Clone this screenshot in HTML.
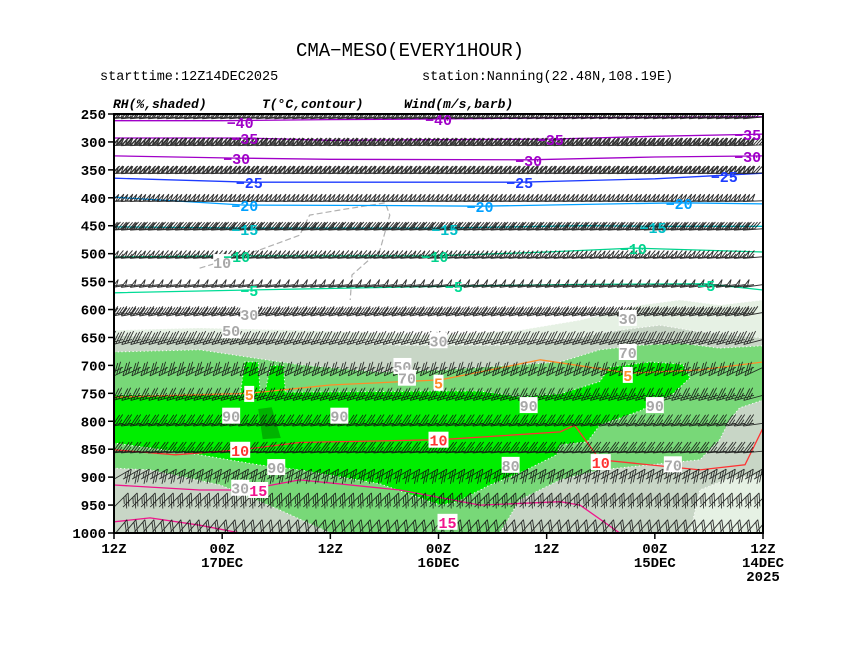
<!DOCTYPE html>
<html><head><meta charset="utf-8"><style>
body{margin:0;background:#fff;}
svg text{font-family:"Liberation Mono","DejaVu Sans Mono",monospace;}
</style></head><body>
<svg id="chart" width="841" height="650" viewBox="0 0 841 650" xmlns="http://www.w3.org/2000/svg">
<rect width="841" height="650" fill="#fff"/>
<text x="410" y="56" font-size="19" text-anchor="middle" fill="#000">CMA−MESO(EVERY1HOUR)</text>
<text x="100" y="80" font-size="13.5" fill="#000">starttime:12Z14DEC2025</text>
<text x="422" y="80" font-size="13.5" fill="#000">station:Nanning(22.48N,108.19E)</text>
<text x="113" y="108" font-size="13" font-style="italic" font-weight="bold" fill="#000" font-family="Liberation Serif,serif">RH(%,shaded)</text>
<text x="262" y="108" font-size="13" font-style="italic" font-weight="bold" fill="#000" font-family="Liberation Serif,serif">T(°C,contour)</text>
<text x="404" y="108" font-size="13" font-style="italic" font-weight="bold" fill="#000" font-family="Liberation Serif,serif">Wind(m/s,barb)</text>
<g id="plot"></g>
</svg>
<script>
// ---- data ----
const levels=[250,300,350,400,450,500,550,600,650,700,750,800,850,900,950,1000];
const xTickHours=[72,60,48,36,24,12,0];
const xTickLabels=[["12Z"],["00Z","17DEC"],["12Z"],["00Z","16DEC"],["12Z"],["00Z","15DEC"],["12Z","14DEC","2025"]];
const windSpeed=[46,50,48,40,32,26,20,16,12,10,10,10,9,10,10,8];
const windDir=[265,268,268,268,266,265,262,260,255,245,255,262,265,60,45,40];
// RH shaded regions [hour, hPa]
const rh30=[[72,637],[62.5,633],[51.4,637],[42.5,642],[35.8,646],[27,637],[20.3,619],[13.6,592],[9.2,583],[4.8,592],[0,583],[0,1000],[72,1000]];
const rh50=[[72,647],[56.9,651],[48,658],[40.3,664],[35.8,664],[29.2,664],[22.5,655],[15.9,637],[11.4,628],[7,640],[0,651],[0,896],[3.7,902],[7,923],[8.1,1000],[72,1000]];
const rh70=[[72,676],[62.5,672],[58,683],[51.4,699],[42.5,712],[35.8,708],[27,699],[22.5,694],[18.1,672],[13.6,664],[9.2,660],[4.8,669],[0,665],[0,762],[2.6,776],[3.7,798],[4.8,833],[7,869],[12.5,878],[18.1,887],[22.5,905],[27,941],[29.2,1000],[48,1000],[53.6,959],[60.2,914],[68,887],[72,884]];
const rh90a=[[72,753],[58,753],[57.5,694],[56,694],[55.8,745],[55.2,745],[54.6,700],[53.2,700],[53,748],[35.8,746],[31.4,746],[27,756],[22.5,751],[18.1,729],[17,703],[12.5,694],[8.9,698],[8.1,722],[10,751],[13.6,781],[18.1,807],[19.5,837],[22.5,842],[22.9,860],[26.6,890],[30.3,914],[33.9,944],[35.8,950],[42.5,912],[51.4,887],[56,878],[62.5,860],[72,839]];
const rh90dark=[[56,778],[54.5,775],[53.5,830],[55.5,832]];
const rh10=[[62.5,526],[55.8,493],[51.4,467],[50.3,431],[47,422],[41.9,409],[41.4,431],[42.5,494],[45.6,538],[45.8,583]];
// temperature isotherms [hour, hPa]
const isoVals=[-40,-35,-30,-25,-20,-15,-10,-5,5,10,15,15];
const isoLines=[
 [[72,262],[60,262],[48,260],[36,259],[24,257],[12,256],[0,255]],
 [[72,293],[57.5,293],[48,297],[36,296],[23.6,295],[12,290],[0,286]],
 [[72,325],[58.4,329],[48,331],[26,332],[12,327],[0,325]],
 [[72,365],[57,372],[40,372],[27,372],[12,366],[0,356]],
 [[72,399],[57.5,413],[40,414],[31.4,415],[9.3,409],[0,411]],
 [[72,452],[57.5,454],[35.3,454],[20,450],[12.2,451],[0,451]],
 [[72,506],[58.4,504],[36.4,504],[24,497],[14.4,490],[0,497]],
 [[72,570],[57,565],[34.3,558],[20,555],[6.3,554],[0,565]],
 [[72,757],[57,750],[48,735],[35.8,726],[24.7,690],[14.8,714],[7,708],[0,694]],
 [[72,851],[65.2,860],[58,851],[51.4,838],[35.8,833],[22.5,819],[20.9,807],[18.1,869],[7,887],[2,878],[0,812]],
 [[72,914],[62.5,923],[57.5,923],[51.4,905],[40.3,923],[31.4,950],[22.5,944],[20.3,950],[15.9,1000]],
 [[72,980],[68,973],[62.5,986],[58,1000]]];
const isoColors=["#a000c8","#a000c8","#a000c8","#1e3cff","#00a0ff","#00c0c8","#00d28c","#00dc96","#ff8c28","#ff3232","#f0148c","#f0148c"];
const tLabelVals=[-40,-40,-35,-35,-35,-30,-30,-30,-25,-25,-25,-20,-20,-20,-15,-15,-15,-10,-10,-10,-5,-5,-5,5,5,5,10,10,10,15,15];
const tLabelPos=[[58,264],[36,259],[57.5,293],[23.6,295],[1.7,286],[58.4,329],[26,332],[1.7,325],[57,372],[27,372],[4.3,361],[57.5,413],[31.4,415],[9.3,409],[57.5,456],[35.3,456],[12.2,452],[58.4,504],[36.4,504],[14.4,490],[57,565],[34.3,558],[6.3,556],[57,751],[36,731],[15,717],[58,851],[36,833],[18,873],[56,923],[35,980]];
const rhLabelVals=[50,30,90,90,90,50,70,30,90,80,90,70,30,70,30,10];
const rhLabelPos=[[59,637],[57,608],[59,790],[47,790],[54,882],[40,701],[39.5,722],[36,655],[26,771],[28,878],[12,771],[15,676],[15,615],[10,877],[58,919],[60,515]];
// ---- axes ----
const X0=114,X1=763,Y0=114,Y1=533;
function xs(h){return X1-h*(X1-X0)/72;}
function ys(p){return Y0+(p-250)*(Y1-Y0)/750;}
const NS="http://www.w3.org/2000/svg";
const plot=document.getElementById('plot');
function mk(tag,attrs,parent){const e=document.createElementNS(NS,tag);for(const k in attrs)e.setAttribute(k,attrs[k]);(parent||plot).appendChild(e);return e;}
function pts(arr){return arr.map(d=>xs(d[0]).toFixed(1)+","+ys(d[1]).toFixed(1)).join(" ");}
const clip=mk('clipPath',{id:'pc'});mk('rect',{x:X0,y:Y0,width:X1-X0,height:Y1-Y0},clip);
const g=mk('g',{'clip-path':'url(#pc)'});


const rhLayers=[[rh30,"#e6f1e4"],[rh50,"#c8d6c6"],[rh70,"#78d878"],[rh90a,"#00ee00"],[rh90dark,"#00b400"]];
rhLayers.forEach((L,i)=>{const e=mk('polygon',{points:pts(L[0]),fill:L[1],stroke:i<4?'#fff':'none','stroke-width':1,'stroke-dasharray':'1.2,2.5'},g);

});
const d10=mk('polyline',{points:pts(rh10),fill:'none',stroke:'#b0b0b0','stroke-width':1.2,'stroke-dasharray':'6,3'},g);


isoLines.forEach((L,i)=>{const e=mk('polyline',{points:pts(L),fill:'none',stroke:isoColors[i],'stroke-width':1.3},g);

});
// wind barbs
function barb(cx,cy,spd,dir,F,K){
 const r=dir*Math.PI/180, sx=Math.sin(r), sy=-Math.cos(r), px=-sy, py=sx;
 const L=20, tx=cx+sx*L, ty=cy+sy*L; let d="M"+cx.toFixed(1)+" "+cy.toFixed(1)+"L"+tx.toFixed(1)+" "+ty.toFixed(1);
 let s=Math.round(spd/2)*2, pos=0;
 while(s>=20){const bx=tx-sx*pos,by=ty-sy*pos;d+="M"+bx.toFixed(1)+" "+by.toFixed(1)+"L"+(bx+px*F-sx*K).toFixed(1)+" "+(by+py*F-sy*K).toFixed(1)+"L"+(bx-sx*4).toFixed(1)+" "+(by-sy*4).toFixed(1);pos+=5;s-=20;}
 while(s>=4){const bx=tx-sx*pos,by=ty-sy*pos;d+="M"+bx.toFixed(1)+" "+by.toFixed(1)+"L"+(bx+px*F-sx*K).toFixed(1)+" "+(by+py*F-sy*K).toFixed(1);pos+=3;s-=4;}
 if(s>=2){const bx=tx-sx*(pos||3),by=ty-sy*(pos||3);d+="M"+bx.toFixed(1)+" "+by.toFixed(1)+"L"+(bx+px*F/2-sx*K/2).toFixed(1)+" "+(by+py*F/2-sy*K/2).toFixed(1);}
 return d;}
levels.forEach((p,i)=>{let d="";const up=p<650;const F=up?7:10,K=up?7:9;
 for(let h=0;h<=72;h++){d+=barb(xs(h),ys(p)+(up?3:2),windSpeed[i],windDir[i],F,K);}
 const e=mk('path',{d:d,fill:'none',stroke:'#111','stroke-width':up?1:0.9,'stroke-opacity':0.85},g);
 
 });
// labels
rhLabelVals.forEach((v,i)=>{const x=xs(rhLabelPos[i][0]),y=ys(rhLabelPos[i][1]);
 const b=mk('rect',{x:x-9,y:y-8,width:18,height:16,fill:'#fff'},g);
 
 
 const t=mk('text',{x:x,y:y+6,'font-size':15,'font-weight':'bold','text-anchor':'middle',fill:'#a8a8a8'},g);t.textContent=v;
 
 });
tLabelVals.forEach((v,i)=>{const x=xs(tLabelPos[i][0]),y=ys(tLabelPos[i][1]);
 const c=isoColors[isoVals.indexOf(v)];
 const s=v<0?"−"+(-v):""+v;
 if(v>0){const b=mk('rect',{x:x-s.length*5,y:y-8,width:s.length*10,height:16,fill:'#fff'},g);
  
  }
 const t=mk('text',{x:x,y:y+6,'font-size':15,'font-weight':'bold','text-anchor':'middle',fill:c},g);t.textContent=s;
 
 });
// frame and ticks
const fr=mk('rect',{x:X0,y:Y0,width:X1-X0,height:Y1-Y0,fill:'none',stroke:'#000','stroke-width':2});


levels.forEach(p=>{const y=ys(p);
 const l=mk('line',{x1:X0-6,x2:X0,y1:y,y2:y,stroke:'#000','stroke-width':1.5});
 
 
 const t=mk('text',{x:X0-8,y:y+5,'font-size':14,'font-weight':'bold','text-anchor':'end',fill:'#000'});t.textContent=p;
 
 });
xTickHours.forEach((h,i)=>{const x=xs(h);
 const l=mk('line',{x1:x,x2:x,y1:Y1,y2:Y1+6,stroke:'#000','stroke-width':1.5});
 
 
 xTickLabels[i].forEach((s,j)=>{const t=mk('text',{x:x,y:Y1+20+j*14,'font-size':14,'font-weight':'bold','text-anchor':'middle',fill:'#000'});t.textContent=s;
  
  });});
</script>
</body></html>
